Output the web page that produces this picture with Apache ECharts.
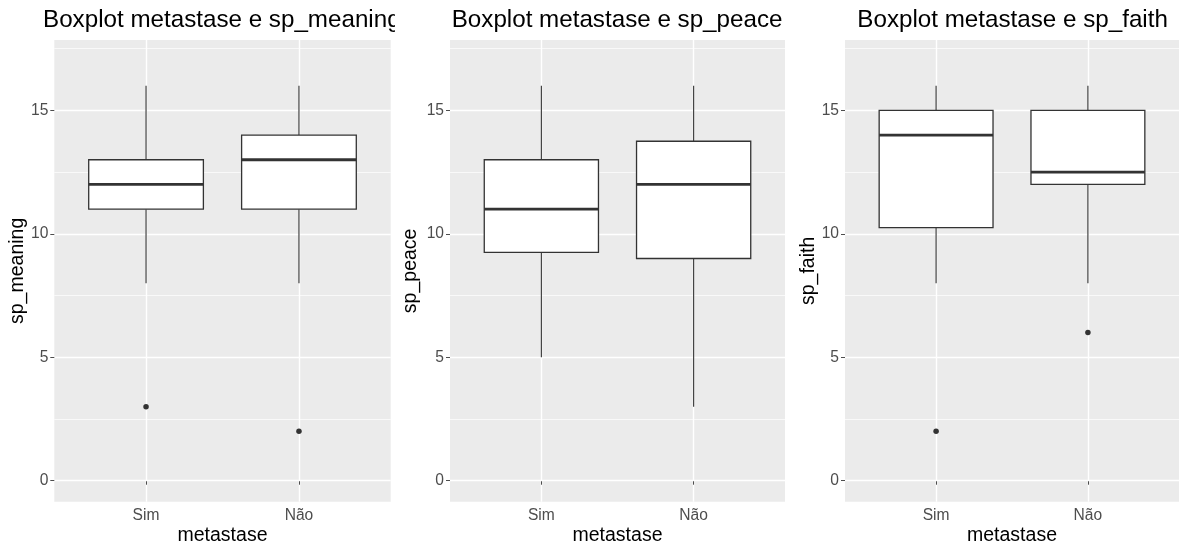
<!DOCTYPE html>
<html>
<head>
<meta charset="utf-8">
<script src="https://cdn.jsdelivr.net/npm/echarts@6/dist/echarts.min.js"></script>
<style>
  html, body { margin: 0; padding: 0; background: #fff; }
  #wrap { position: relative; width: 1179px; height: 547px; overflow: hidden; }
  .panel { position: absolute; top: 0; height: 547px; overflow: hidden; }
</style>
</head>
<body>
<div id="wrap">
  <div class="panel" id="p1"></div>
  <div class="panel" id="p2"></div>
  <div class="panel" id="p3"></div>
</div>
<script>
// Groups on the x axis
const categories = ['Sim', 'Não'];

// Five-number summaries per group: [lower whisker, Q1, median, Q3, upper whisker]
const meaningStats = [[8, 11, 12, 13, 16], [8, 11, 13, 14, 16]];
const peaceStats   = [[5, 9.25, 11, 13, 16], [3, 9, 12, 13.75, 16]];
const faithStats   = [[8, 10.25, 14, 15, 16], [8, 12, 12.5, 15, 16]];

// Outlying observations per group
const meaningOutliers = [[3], [2]];
const peaceOutliers   = [[], []];
const faithOutliers   = [[2], [6]];

// Y axis tick labels and minor grid positions
const yTicks = [0, 5, 10, 15];
const yMinor = [2.5, 7.5, 12.5, 17.5];

const FONT = 'Liberation Sans, Arial, sans-serif';
const INK = '#333333';
const BOX_WIDTH = 0.75;

function renderBox(params, api) {
  const x = api.value(0);
  const pLo = api.coord([x, api.value(1)]);
  const pQ1 = api.coord([x, api.value(2)]);
  const pMed = api.coord([x, api.value(3)]);
  const pQ3 = api.coord([x, api.value(4)]);
  const pHi = api.coord([x, api.value(5)]);
  const half = api.size([BOX_WIDTH, 0])[0] / 2;
  return {
    type: 'group',
    children: [
      { type: 'line', shape: { x1: pHi[0], y1: pHi[1], x2: pQ3[0], y2: pQ3[1] },
        style: { stroke: INK, lineWidth: 1.1 } },
      { type: 'line', shape: { x1: pQ1[0], y1: pQ1[1], x2: pLo[0], y2: pLo[1] },
        style: { stroke: INK, lineWidth: 1.1 } },
      { type: 'rect', shape: { x: pQ3[0] - half, y: pQ3[1], width: half * 2, height: pQ1[1] - pQ3[1] },
        style: { fill: '#ffffff', stroke: INK, lineWidth: 1.3 } },
      { type: 'line', shape: { x1: pMed[0] - half, y1: pMed[1], x2: pMed[0] + half, y2: pMed[1] },
        style: { stroke: INK, lineWidth: 2.8 } }
    ]
  };
}

function makePanel(cfg) {
  const el = document.getElementById(cfg.id);
  el.style.left = cfg.divLeft + 'px';
  el.style.width = cfg.divWidth + 'px';
  const chart = echarts.init(el, null, { renderer: 'canvas' });

  const boxData = cfg.stats.map((s, i) => [i + 1].concat(s));
  const outData = [];
  cfg.outliers.forEach((vals, i) => vals.forEach(v => outData.push([i + 1, v])));

  const yBase = {
    type: 'value', min: -0.85, max: 17.85,
    axisLine: { show: false }
  };

  chart.setOption({
    animation: false,
    backgroundColor: '#ffffff',
    title: {
      text: cfg.title,
      left: cfg.titleLeft, top: 8, padding: 0,
      textStyle: { fontFamily: FONT, fontSize: 24.2, fontWeight: 'normal', color: '#000' }
    },
    grid: {
      left: cfg.gridLeft, top: 40,
      width: cfg.gridWidth, height: 461.7,
      containLabel: false, outerBoundsMode: 'none',
      show: true, backgroundColor: '#EBEBEB', borderWidth: 0
    },
    xAxis: {
      type: 'value', min: 0.4, max: 2.6,
      name: 'metastase', nameLocation: 'middle', nameGap: 24, nameMoveOverlap: false,
      nameTextStyle: { fontFamily: FONT, fontSize: 19.5, color: '#000', verticalAlign: 'top' },
      axisLine: { show: false },
      axisTick: { show: true, customValues: [1, 2], length: 4, lineStyle: { color: '#4D4D4D', width: 1 } },
      axisLabel: {
        customValues: [1, 2], margin: 6,
        formatter: v => categories[Math.round(v) - 1] || '',
        fontFamily: FONT, fontSize: 15.6, color: '#4D4D4D'
      },
      splitLine: { show: true, lineStyle: { color: '#ffffff', width: 1.4 } }
    },
    yAxis: [
      Object.assign({}, yBase, {
        name: cfg.yName, nameLocation: 'middle', nameRotate: 90, nameGap: cfg.yNameGap,
        nameMoveOverlap: false,
        nameTextStyle: { fontFamily: FONT, fontSize: 19.5, color: '#000' },
        axisTick: { show: true, customValues: yTicks, length: 4, lineStyle: { color: '#4D4D4D', width: 1 } },
        axisLabel: {
          customValues: yTicks, margin: 6,
          fontFamily: FONT, fontSize: 15.6, color: '#4D4D4D'
        },
        splitLine: { show: true, lineStyle: { color: '#ffffff', width: 1.4 } },
        z: 1
      }),
      Object.assign({}, yBase, {
        axisTick: { show: false, customValues: yMinor },
        axisLabel: { show: false, customValues: yMinor },
        splitLine: { show: true, lineStyle: { color: '#ffffff', width: 0.7 } },
        z: 0
      })
    ],
    series: [
      {
        type: 'custom', renderItem: renderBox, data: boxData,
        encode: { x: 0, y: [1, 2, 3, 4, 5] }, z: 3
      },
      {
        type: 'scatter', data: outData, symbol: 'circle', symbolSize: 5.5,
        itemStyle: { color: INK, opacity: 1 }, z: 4
      }
    ]
  });
}

makePanel({
  id: 'p1', divLeft: 0, divWidth: 395,
  title: 'Boxplot metastase e sp_meaning', titleLeft: 43,
  gridLeft: 54.3, gridWidth: 336.4,
  yName: 'sp_meaning', yNameGap: 27,
  stats: meaningStats, outliers: meaningOutliers
});
makePanel({
  id: 'p2', divLeft: 395, divWidth: 392,
  title: 'Boxplot metastase e sp_peace', titleLeft: 56.7,
  gridLeft: 55, gridWidth: 335,
  yName: 'sp_peace', yNameGap: 29,
  stats: peaceStats, outliers: peaceOutliers
});
makePanel({
  id: 'p3', divLeft: 787, divWidth: 392,
  title: 'Boxplot metastase e sp_faith', titleLeft: 70.3,
  gridLeft: 58, gridWidth: 334,
  yName: 'sp_faith', yNameGap: 26,
  stats: faithStats, outliers: faithOutliers
});
</script>
</body>
</html>
